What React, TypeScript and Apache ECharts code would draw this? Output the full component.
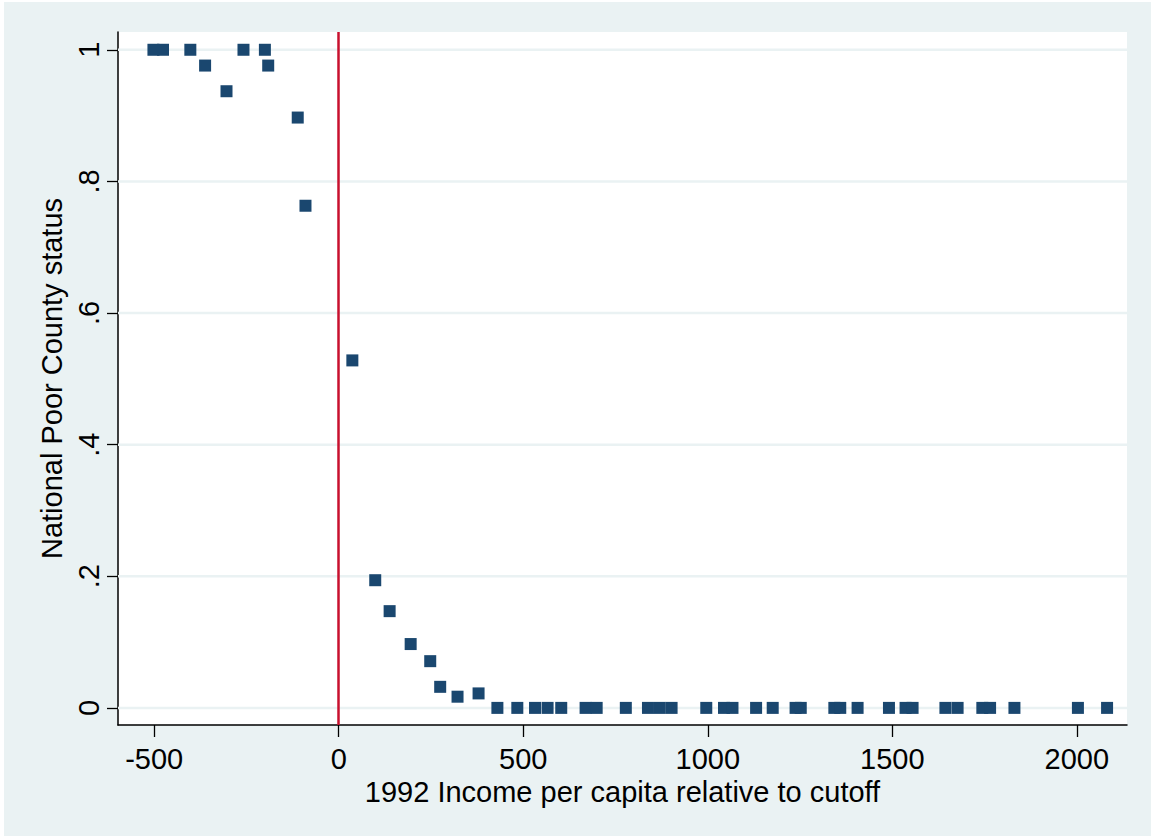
import React, { useEffect, useRef } from "react";
import * as echarts from "echarts";

// Bin averages: 1992 income per capita relative to the cutoff (x) and
// share of counties with National Poor County status (y).
const incomeBins: number[] = [
  -502, -476, -402, -362, -304, -258, -200, -191, -111, -90,
  37, 99, 138, 195, 248, 275, 322, 379,
  430, 484, 532, 566, 603, 669, 699, 778, 838, 870, 902, 996,
  1044, 1067, 1131, 1176, 1238, 1252, 1343, 1359, 1406, 1491,
  1536, 1555, 1644, 1677, 1744, 1765, 1831, 2003, 2082,
];
const poorShare: number[] = [
  1, 1, 1, 0.976, 0.937, 1, 1, 0.976, 0.897, 0.763,
  0.528, 0.194, 0.147, 0.097, 0.071, 0.032, 0.017, 0.022,
  0, 0, 0, 0, 0, 0, 0, 0, 0, 0, 0, 0,
  0, 0, 0, 0, 0, 0, 0, 0, 0, 0,
  0, 0, 0, 0, 0, 0, 0, 0, 0,
];

const xTicks: number[] = [-500, 0, 500, 1000, 1500, 2000];
const yTicks: number[] = [0, 0.2, 0.4, 0.6, 0.8, 1];
const xRange: [number, number] = [-598, 2136];
const yRange: [number, number] = [-0.026, 1.027];
const cutoff = 0;

const xTitle = "1992 Income per capita relative to cutoff";
const yTitle = "National Poor County status";

const FONT = "'Liberation Sans', Arial, sans-serif";
const FS = 29;
const BG = "#EAF2F3";
const NAVY = "#1A476F";
const RED = "#C8102E";

function fmtY(v: number): string {
  if (v === 0) return "0";
  if (v === 1) return "1";
  return String(Number(v.toFixed(1))).replace(/^0\./, ".");
}

export default function App() {
  const ref = useRef<HTMLDivElement>(null);

  useEffect(() => {
    document.body.style.margin = "0";
    if (!ref.current) return;
    const chart = echarts.init(ref.current, undefined, { renderer: "svg" });

    const points = incomeBins.map((x, i) => [x, poorShare[i]]);

    // one flat line series per y tick, drawn beneath the markers
    const gridSeries = yTicks.map((v) => ({
      type: "line",
      data: [
        [xRange[0], v],
        [xRange[1], v],
      ],
      showSymbol: false,
      symbol: "none",
      silent: true,
      z: 1,
      lineStyle: { color: BG, width: 2.5 },
    }));

    chart.setOption({
      animation: false,
      backgroundColor: BG,
      textStyle: { fontFamily: FONT },
      grid: {
        left: 114,
        top: 30,
        right: 24,
        bottom: 111,
        show: true,
        backgroundColor: "#FFFFFF",
        borderWidth: 0,
      },
      xAxis: {
        type: "value",
        min: xRange[0],
        max: xRange[1],
        name: xTitle,
        nameLocation: "middle",
        nameGap: 42,
        nameTextStyle: { fontFamily: FONT, fontSize: FS, color: "#000" },
        axisLine: { show: true, onZero: false, lineStyle: { color: "#000", width: 1.5 } },
        axisTick: {
          show: true,
          length: 12,
          customValues: xTicks,
          lineStyle: { color: "#000", width: 1.3 },
        },
        axisLabel: {
          customValues: xTicks,
          margin: 19,
          fontFamily: FONT,
          fontSize: FS,
          color: "#000",
          formatter: (v: number) => String(v),
        },
        splitLine: { show: false },
      },
      yAxis: {
        type: "value",
        min: yRange[0],
        max: yRange[1],
        name: yTitle,
        nameLocation: "middle",
        nameGap: 50,
        nameRotate: 90,
        nameTextStyle: { fontFamily: FONT, fontSize: FS, color: "#000" },
        axisLine: { show: true, onZero: false, lineStyle: { color: "#000", width: 1.5 } },
        axisTick: {
          show: true,
          length: 11,
          customValues: yTicks,
          lineStyle: { color: "#000", width: 1.3 },
        },
        axisLabel: {
          customValues: yTicks,
          rotate: 90,
          margin: 15,
          fontFamily: FONT,
          fontSize: FS,
          color: "#000",
          formatter: (v: number) => fmtY(v),
        },
        splitLine: { show: false },
      },
      series: [
        ...gridSeries,
        {
          type: "scatter",
          data: points,
          symbol: "rect",
          symbolSize: 12,
          z: 3,
          itemStyle: { color: NAVY, opacity: 1 },
        },
        {
          // vertical reference line at the cutoff
          type: "scatter",
          data: [],
          z: 4,
          silent: true,
          markLine: {
            silent: true,
            symbol: ["none", "none"],
            label: { show: false },
            lineStyle: { color: RED, width: 2.5, type: "solid" },
            data: [{ xAxis: cutoff }],
          },
        },
      ],
    });

    return () => chart.dispose();
  }, []);

  return (
    <div style={{ width: 1151, height: 838, background: "#FFFFFF", position: "relative" }}>
      <div
        ref={ref}
        style={{ position: "absolute", left: 4, top: 2, width: 1147, height: 834 }}
      />
    </div>
  );
}
